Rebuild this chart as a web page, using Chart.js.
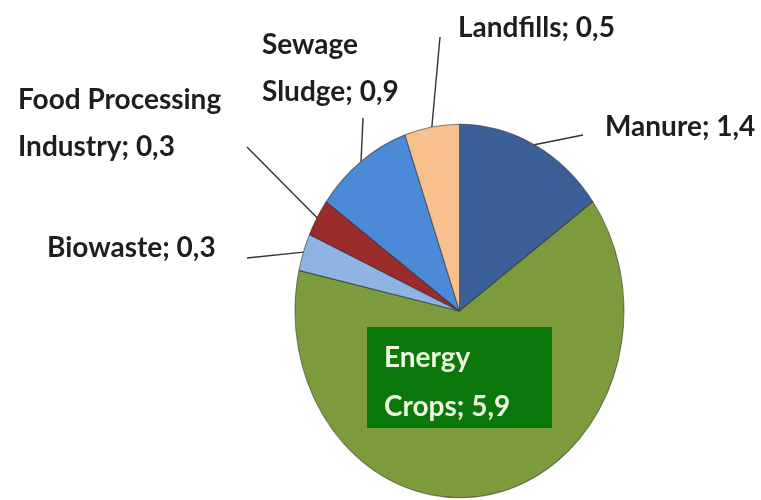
<!DOCTYPE html>
<html>
<head>
<meta charset="UTF-8">
<title>Biogas potential</title>
<script src="https://cdn.jsdelivr.net/npm/chart.js@4/dist/chart.umd.min.js"></script>
<style>
  body { margin: 0; background: #fff; }
  #wrap { width: 761px; height: 500px; }
</style>
</head>
<body>
<div id="wrap"><canvas id="myChart" width="761" height="500"></canvas></div>
<script>
// sources, clockwise from 12 o'clock
const sources = ['Manure', 'Energy Crops', 'Biowaste', 'Food Processing Industry', 'Sewage Sludge', 'Landfills'];
const potential = [1.4, 5.9, 0.3, 0.3, 0.9, 0.5];
// text lines shown next to each slice
const labelLines = [
    ['Manure; 1,4'],
    ['Energy', 'Crops; 5,9'],
    ['Biowaste; 0,3'],
    ['Food Processing', 'Industry; 0,3'],
    ['Sewage', 'Sludge; 0,9'],
    ['Landfills; 0,5']
];
const sliceColors = ['#3b6097', '#7b9b3c', '#8db4e2', '#9b2c2b', '#4b8ad6', '#f8c08c'];

// pie is drawn a bit taller than wide
const squash = 1.135;

// where each label sits and where its leader line bends
const labelLayout = [
    { x: 605, y: 127, align: 'left', elbow: [583, 135] },
    null,
    { x: 47, y: 248, align: 'left', elbow: [247, 258] },
    { x: 18, y: 100, align: 'left', elbow: [247, 147] },
    { x: 262, y: 45, align: 'left', elbow: [363, 118] },
    { x: 458, y: 28, align: 'left', elbow: [440, 37] }
];

function shade(hex, f) {
    const n = parseInt(hex.slice(1), 16);
    const r = Math.round(((n >> 16) & 255) * f);
    const g = Math.round(((n >> 8) & 255) * f);
    const b = Math.round((n & 255) * f);
    return 'rgb(' + r + ',' + g + ',' + b + ')';
}

function sliceFill(context) {
    const base = sliceColors[context.dataIndex];
    const chart = context.chart;
    const meta = chart.getDatasetMeta(0);
    const arc = meta.data[context.dataIndex];
    if (!arc || !arc.outerRadius) return base;
    const g = chart.ctx.createRadialGradient(arc.x, arc.y, 0, arc.x, arc.y, arc.outerRadius);
    g.addColorStop(0, shade(base, 1.02));
    g.addColorStop(0.86, base);
    g.addColorStop(1, shade(base, 0.8));
    return g;
}

// stretch the pie vertically around its centre
const ellipsePlugin = {
    id: 'ellipse',
    beforeDatasetsDraw(chart) {
        const arc = chart.getDatasetMeta(0).data[0];
        const ctx = chart.ctx;
        ctx.save();
        ctx.translate(arc.x, arc.y);
        ctx.scale(1, squash);
        ctx.translate(-arc.x, -arc.y);
    },
    afterDatasetsDraw(chart) {
        chart.ctx.restore();
    }
};

// labels, leader lines and the boxed label on the big slice
const labelPlugin = {
    id: 'sliceLabels',
    afterDraw(chart) {
        const ctx = chart.ctx;
        const arcs = chart.getDatasetMeta(0).data;
        ctx.save();
        ctx.font = 'bold 28px Lato, "Open Sans", sans-serif';
        ctx.textBaseline = 'middle';
        arcs.forEach((arc, i) => {
            const lay = labelLayout[i];
            if (!lay) return;
            const mid = (arc.startAngle + arc.endAngle) / 2;
            const px = arc.x + arc.outerRadius * Math.cos(mid);
            const py = arc.y + arc.outerRadius * Math.sin(mid) * squash;
            ctx.strokeStyle = '#333';
            ctx.lineWidth = 1.4;
            ctx.beginPath();
            ctx.moveTo(px, py);
            ctx.lineTo(lay.elbow[0], lay.elbow[1]);
            ctx.stroke();
            ctx.fillStyle = '#1e1e1e';
            ctx.textAlign = lay.align;
            labelLines[i].forEach((line, k) => {
                ctx.fillText(line, lay.x, lay.y + k * 47);
            });
        });

        // big slice gets a filled box
        ctx.fillStyle = '#0b780b';
        ctx.fillRect(367, 327, 185, 101);
        ctx.fillStyle = '#eef7e0';
        ctx.textAlign = 'left';
        labelLines[1].forEach((line, k) => {
            ctx.fillText(line, 384, 358 + k * 49);
        });
        ctx.restore();
    }
};

new Chart(document.getElementById('myChart'), {
    type: 'pie',
    data: {
        labels: sources,
        datasets: [{
            data: potential,
            backgroundColor: sliceFill,
            borderColor: 'rgba(40,40,40,0.55)',
            borderWidth: 1
        }]
    },
    options: {
        responsive: false,
        animation: false,
        layout: { padding: { left: 294, right: 136, top: 146, bottom: 24 } },
        plugins: {
            legend: { display: false },
            tooltip: { enabled: false }
        }
    },
    plugins: [ellipsePlugin, labelPlugin]
});
</script>
</body>
</html>
